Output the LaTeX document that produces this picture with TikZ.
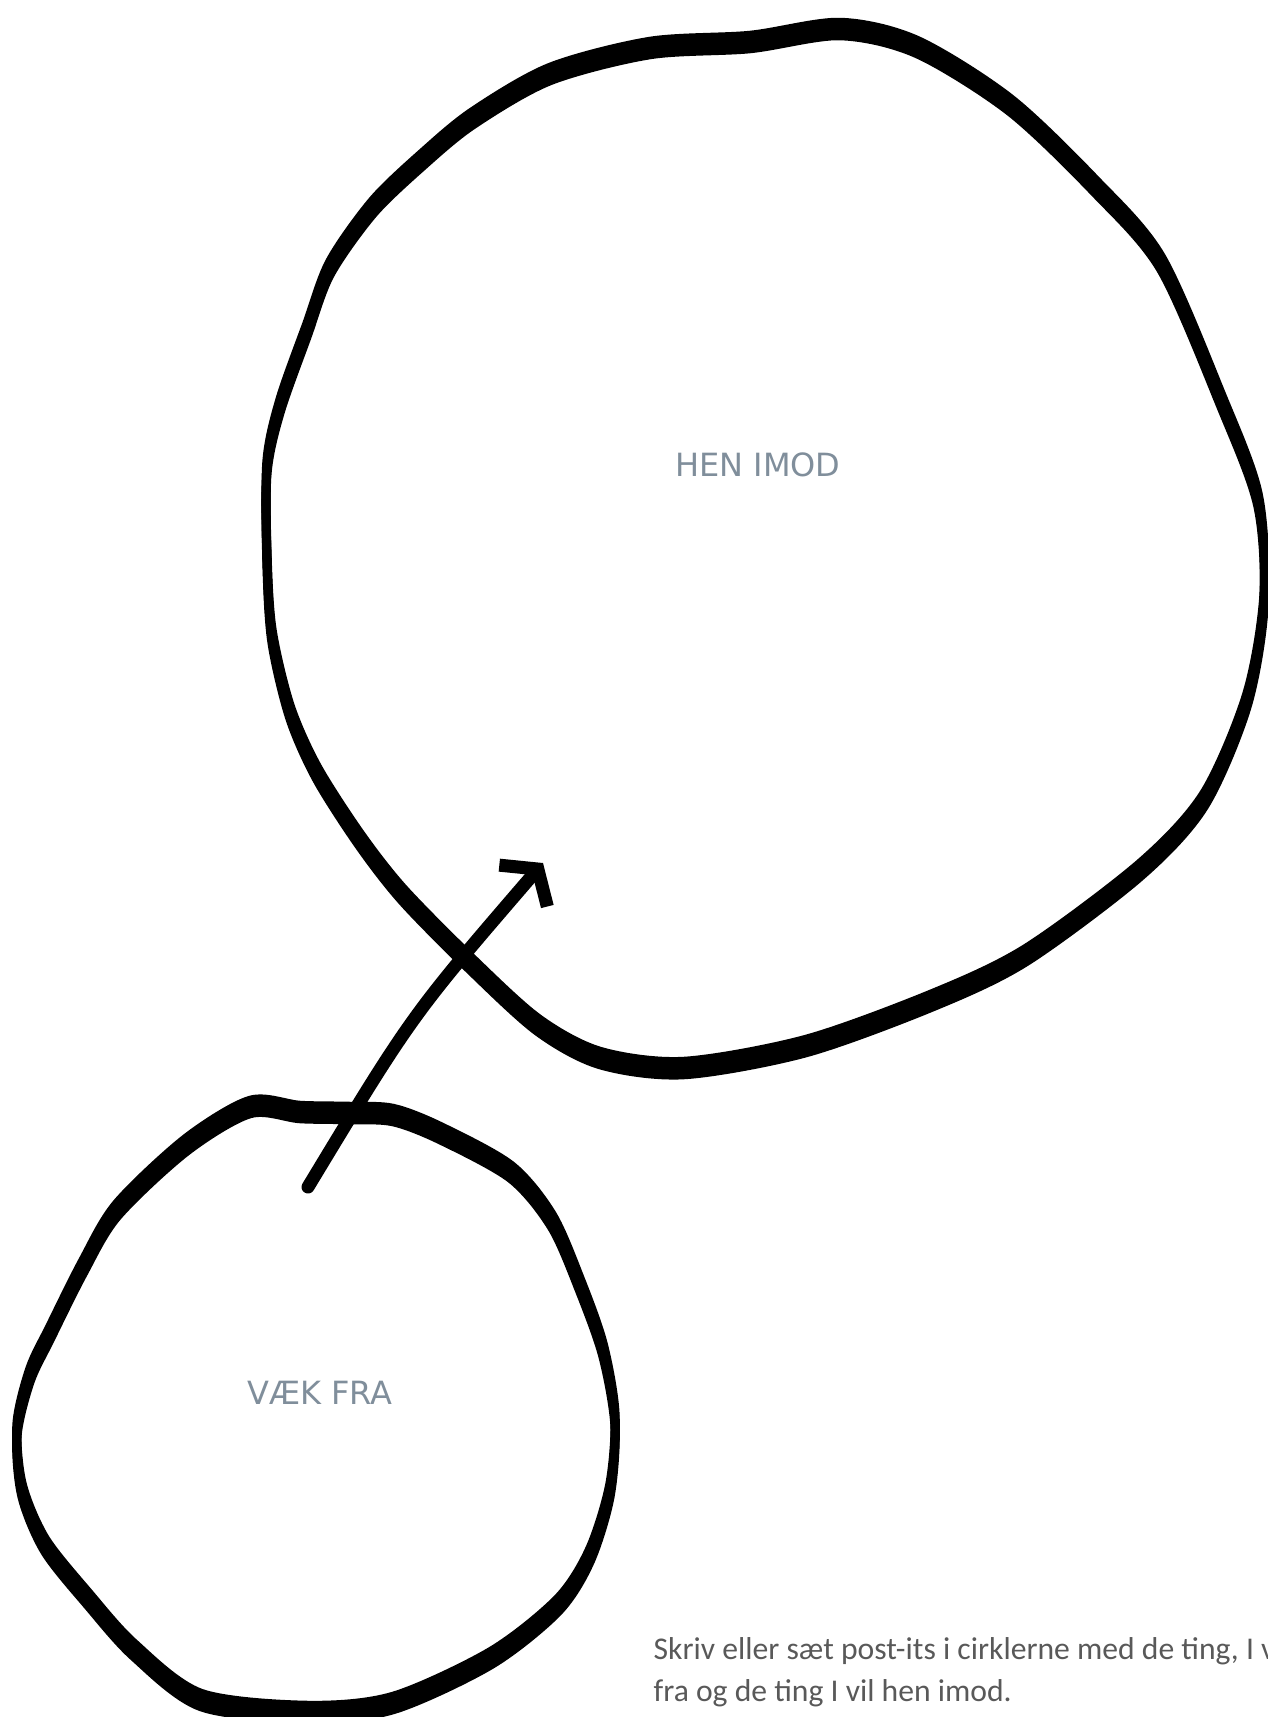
\documentclass[tikz,border=0pt]{standalone}
\usepackage{fontspec}
\usepackage{tikz}
\usetikzlibrary{arrows.meta}
\definecolor{labelgray}{RGB}{128,142,155}
\definecolor{notegray}{RGB}{89,89,89}
\newfontfamily\labelfont{DejaVu Sans}
\newfontfamily\notefont{Carlito}

\begin{document}
\begin{tikzpicture}[
      x=0.01cm, y=-0.01cm,
      ring/.style={line width=2.6pt, line join=round,
                   preaction={draw, line width=2.6pt, transform canvas={yshift=1.9pt}},
                   postaction={draw, line width=2.6pt, transform canvas={yshift=-1.9pt}}},
      lbl/.style={font=\labelfont\fontsize{9.1pt}{11pt}\selectfont, text=labelgray},
      note/.style={font=\notefont\fontsize{9pt}{12pt}\selectfont, text=notegray,
                   align=left, inner sep=0pt},
      >={Straight Barb[angle=110:11pt]},
    ]
    \path[use as bounding box] (0,0) rectangle (1268,1717);

    % big circle
    \draw[ring] plot[smooth cycle] coordinates {
      (650,48) (750,42) (840,29) (917,47) (1010,105) (1095,186) (1161,263)
      (1221,400) (1258,500) (1264,600) (1247,700) (1204,800) (1140,870)
      (1026,955) (933,1000) (806,1046) (684,1068) (600,1058) (538,1025)
      (471,964) (403,895) (360,840) (317,773) (290,712) (272,636) (267,559)
      (267,467) (280,406) (307,330) (330,268) (373,207) (423,159) (473,118)
      (550,74)};
    % small circle
    \draw[ring] plot[smooth cycle] coordinates {
      (300,1112) (350,1113) (393,1115) (440,1133) (511,1172) (552,1221)
      (580,1285) (603,1350) (615,1420) (610,1490) (590,1555) (558,1605)
      (491,1658) (393,1703) (308,1712) (201,1700) (134,1650) (89,1600)
      (45,1545) (22,1490) (17,1430) (30,1375) (50,1333) (83,1267) (117,1210)
      (186,1145) (250,1107)};

    \node[lbl] (henimod) at (758,465) {HEN IMOD};
    \node[lbl] (vaekfra) at (320,1393) {VÆK FRA};

    \coordinate (from) at (308,1187);
    \coordinate (to) at (543,863);
    \draw[->, line width=3.7pt, line cap=round] (from) .. controls (412,1015) .. (to);

    \node[note, anchor=north west] (hint) at (653,1637)
      {Skriv eller sæt post-its i cirklerne med de ting, I vil væk\\
       fra og de ting I vil hen imod.};
\end{tikzpicture}
\end{document}
